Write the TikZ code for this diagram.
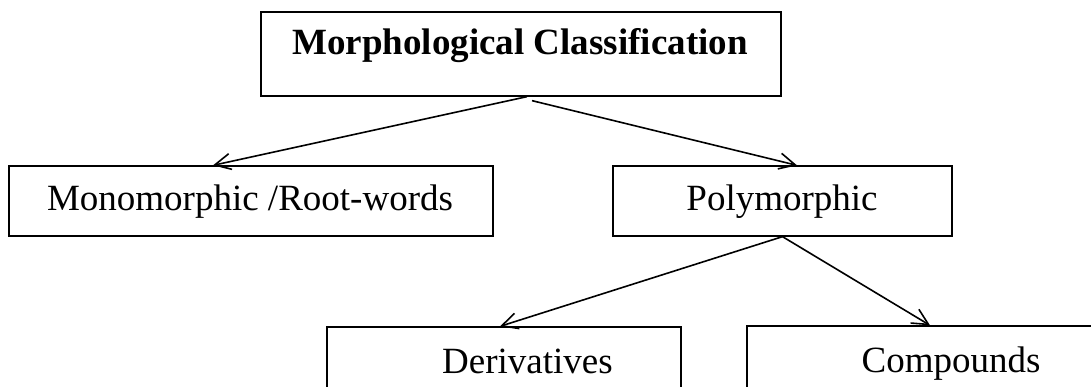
\documentclass[tikz,border=0pt]{standalone}
\usepackage{fontspec}
\setmainfont{Liberation Serif}
\usetikzlibrary{arrows.meta}
\begin{document}
\begin{tikzpicture}[x=1pt,y=-1pt,
  box/.style={draw, line width=1.3pt, inner sep=0pt, rectangle},
  lbl/.style={inner sep=0pt, anchor=base, font=\fontsize{37}{44}\selectfont},
  link/.style={line width=1.6pt, -{Straight Barb[length=16pt,width=16pt]}}]
\useasboundingbox (0,0) rectangle (1091,387);
\clip (0,0) rectangle (1091,387);

% boxes
\node[box, minimum width=520pt, minimum height=84pt] (top) at (521,54) {};
\node[box, minimum width=484pt, minimum height=70pt] (mono) at (251,201) {};
\node[box, minimum width=339pt, minimum height=70pt] (poly) at (782.5,201) {};
\node[box, minimum width=354pt, minimum height=70pt] (deriv) at (504,362) {};
\node[box, minimum width=410pt, minimum height=70pt] (comp) at (952,361) {};

% labels
\node[lbl] (topt) at (520,55) {\bfseries Morphological Classification};
\node[lbl] (monot) at (250,211) {Monomorphic /Root-words};
\node[lbl] (polyt) at (782,211) {Polymorphic};
\node[lbl] (derivt) at (527.5,373) {Derivatives};
\node[lbl] (compt) at (951,372) {Compounds};

% connectors
\draw[link] ([xshift=6pt]top.south) -- ([xshift=-38pt]mono.north);
\draw[link] ([xshift=11pt,yshift=-4pt]top.south) -- ([xshift=14.5pt]poly.north);
\draw[link] (poly.south) -- ([xshift=-4pt]deriv.north);
\draw[link] (poly.south) -- ([xshift=-22pt]comp.north);
\end{tikzpicture}
\end{document}
